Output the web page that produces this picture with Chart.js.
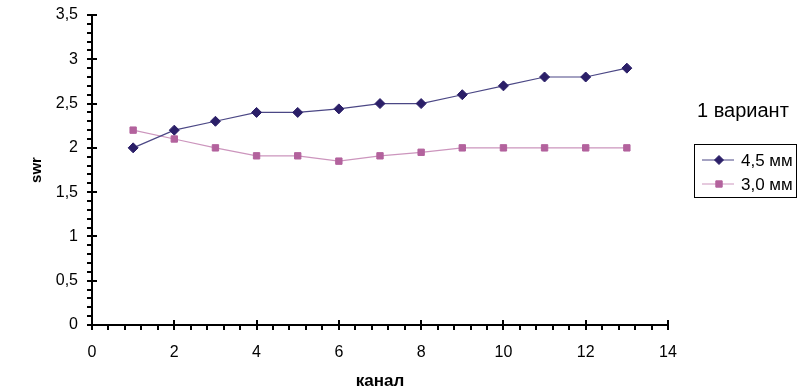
<!DOCTYPE html>
<html>
<head>
<meta charset="utf-8">
<script src="https://cdn.jsdelivr.net/npm/chart.js@4"></script>
<style>
  html, body { margin: 0; padding: 0; background: #fff; }
  #wrap { width: 800px; height: 387px; }
</style>
</head>
<body>
<div id="wrap"><canvas id="myChart" width="800" height="387"></canvas></div>
<script>
const channels = [1, 2, 3, 4, 5, 6, 7, 8, 9, 10, 11, 12, 13];
const swr45 = [2.0, 2.2, 2.3, 2.4, 2.4, 2.44, 2.5, 2.5, 2.6, 2.7, 2.8, 2.8, 2.9];
const swr30 = [2.2, 2.1, 2.0, 1.91, 1.91, 1.85, 1.91, 1.95, 2.0, 2.0, 2.0, 2.0, 2.0];
const seriesNames = ['4,5 мм', '3,0 мм'];
const chartTitle = '1 вариант';

const fontFam = '"Liberation Sans", Arial, sans-serif';
const navy = '#2b1f68';
const navyLine = '#4b4785';
const pink = '#b3629d';
const pinkLine = '#cc95bd';

// minor/major ticks and the boxed legend on the right
const extras = {
    id: 'extras',
    afterDraw(chart) {
        const c = chart.ctx;
        const xs = chart.scales.x, ys = chart.scales.y;
        const x0 = xs.getPixelForValue(0);
        const y0 = ys.getPixelForValue(0);
        c.save();
        c.strokeStyle = '#000';
        c.lineWidth = 2;
        c.beginPath();
        for (let i = 0; i <= 35; i++) {
            const py = Math.round(ys.getPixelForValue(i / 10));
            if (i % 5 === 0) { c.moveTo(x0 - 5, py); c.lineTo(x0 + 5, py); }
            else { c.moveTo(x0 - 5, py); c.lineTo(x0, py); }
        }
        for (let i = 0; i <= 35; i++) {
            const px = Math.round(xs.getPixelForValue(i * 0.4));
            if (i % 5 === 0) { c.moveTo(px, y0 - 5); c.lineTo(px, y0 + 5); }
            else { c.moveTo(px, y0); c.lineTo(px, y0 + 5); }
        }
        c.stroke();

        // title
        c.fillStyle = '#000';
        c.font = '20px ' + fontFam;
        c.textBaseline = 'middle';
        c.textAlign = 'left';
        c.fillText(chartTitle, 697, 111);

        // legend box
        c.lineWidth = 1;
        c.strokeStyle = '#000';
        c.strokeRect(694.5, 144.5, 102, 53);
        const rows = [
            { name: seriesNames[0], line: navyLine, mark: navy, style: 'rectRot', y: 160 },
            { name: seriesNames[1], line: pinkLine, mark: pink, style: 'rect', y: 184 }
        ];
        c.font = '17px ' + fontFam;
        rows.forEach(r => {
            c.strokeStyle = r.line;
            c.lineWidth = 1;
            c.beginPath();
            c.moveTo(702, r.y); c.lineTo(734, r.y);
            c.stroke();
            c.fillStyle = r.mark;
            c.strokeStyle = r.mark;
            Chart.helpers.drawPoint(c, { pointStyle: r.style, radius: 4.5, rotation: 0, borderWidth: 1 }, 719, r.y);
            c.fillStyle = '#000';
            c.fillText(r.name, 741, r.y + 1);
        });
        c.restore();
    }
};

const ctx = document.getElementById('myChart');

new Chart(ctx, {
    type: 'line',
    data: {
        datasets: [{
            label: seriesNames[0],
            data: channels.map((x, i) => ({ x: x, y: swr45[i] })),
            borderColor: navyLine,
            borderWidth: 1.2,
            pointStyle: 'rectRot',
            pointRadius: 5,
            pointBackgroundColor: navy,
            pointBorderColor: navy,
            pointBorderWidth: 1
        }, {
            label: seriesNames[1],
            data: channels.map((x, i) => ({ x: x, y: swr30[i] })),
            borderColor: pinkLine,
            borderWidth: 1.2,
            pointStyle: 'rect',
            pointRadius: 4.5,
            pointBackgroundColor: pink,
            pointBorderColor: pink,
            pointBorderWidth: 1
        }]
    },
    options: {
        responsive: false,
        animation: false,
        clip: false,
        layout: { padding: { left: 0, right: 132, top: 15, bottom: 0 } },
        plugins: {
            legend: { display: false },
            tooltip: { enabled: false }
        },
        scales: {
            x: {
                type: 'linear',
                min: 0,
                max: 14,
                afterFit: (s) => { s.height = 62; s.paddingLeft = 0; s.paddingRight = 0; },
                grid: { display: false, drawTicks: false },
                border: { display: true, color: '#000', width: 2 },
                ticks: {
                    stepSize: 2,
                    padding: 18,
                    color: '#000',
                    font: { family: fontFam, size: 16 },
                    maxRotation: 0
                },
                title: {
                    display: true,
                    text: 'канал',
                    color: '#000',
                    font: { family: fontFam, size: 17, weight: 'bold', lineHeight: 0.7 },
                    padding: { top: 0, bottom: 0 }
                }
            },
            y: {
                min: 0,
                max: 3.5,
                afterFit: (s) => { s.width = 92; s.paddingTop = 0; s.paddingBottom = 0; },
                grid: { display: false, drawTicks: false },
                border: { display: true, color: '#000', width: 2 },
                ticks: {
                    stepSize: 0.5,
                    padding: 14,
                    color: '#000',
                    font: { family: fontFam, size: 16 },
                    callback: (v) => String(v).replace('.', ',')
                },
                title: {
                    display: true,
                    text: 'swr',
                    color: '#000',
                    font: { family: fontFam, size: 15, weight: 'bold' },
                    padding: { top: 28, bottom: 0 }
                }
            }
        }
    },
    plugins: [extras]
});
</script>
</body>
</html>
